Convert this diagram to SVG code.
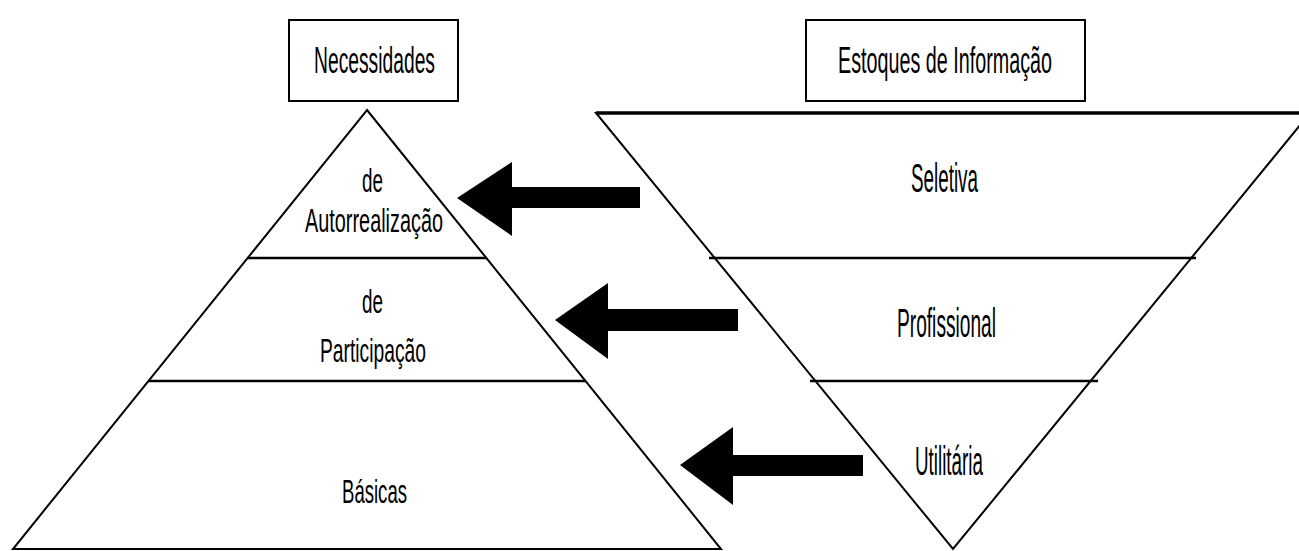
<svg xmlns="http://www.w3.org/2000/svg" width="1299" height="551" viewBox="0 0 1299 551">
<style>
.shape{fill:#ffffff;stroke:#000;stroke-width:2}
.div{stroke:#000;stroke-width:2.5;fill:none}
.box{fill:#fff;stroke:#000;stroke-width:2}
.arrow{fill:#000;stroke:none}
text{font-family:"Liberation Sans",Arial,sans-serif;fill:#000;text-anchor:middle}
.h{font-size:37px}
.l{font-size:34px}
.r{font-size:40px}
</style>
<rect width="1299" height="551" fill="#fff"/>
<g id="box-necessidades">
<rect class="box" x="289" y="20" width="169" height="81"/>
<text class="h" x="374.5" y="73" textLength="121" lengthAdjust="spacingAndGlyphs">Necessidades</text>
</g>
<g id="box-estoques">
<rect class="box" x="806" y="20" width="279" height="81"/>
<text class="h" x="945" y="73" textLength="214" lengthAdjust="spacingAndGlyphs">Estoques de Informação</text>
</g>
<g id="pyramid">
<polygon class="shape" points="367,110 721,549 13,549"/>
<line class="div" x1="248" y1="258" x2="487" y2="258"/>
<line class="div" x1="149" y1="381" x2="585" y2="381"/>
</g>
<g id="level-autorrealizacao">
<text class="l" x="372.5" y="192" textLength="21" lengthAdjust="spacingAndGlyphs">de</text>
<text class="l" x="374" y="232" textLength="138" lengthAdjust="spacingAndGlyphs">Autorrealização</text>
</g>
<g id="level-participacao">
<text class="l" x="372.5" y="313" textLength="21" lengthAdjust="spacingAndGlyphs">de</text>
<text class="l" x="373" y="362" textLength="106" lengthAdjust="spacingAndGlyphs">Participação</text>
</g>
<g id="level-basicas">
<text class="l" x="374.5" y="503" textLength="65" lengthAdjust="spacingAndGlyphs">Básicas</text>
</g>
<g id="inverted-triangle">
<polygon class="shape" points="596,113 1310,113 953,549"/>
<line x1="596" y1="113" x2="1299" y2="113" stroke="#000" stroke-width="3.5"/>
<line class="div" x1="709" y1="258" x2="1196" y2="258"/>
<line class="div" x1="810" y1="381" x2="1098" y2="381"/>
</g>
<g id="stock-seletiva">
<text class="r" x="944.5" y="192" textLength="67" lengthAdjust="spacingAndGlyphs">Seletiva</text>
</g>
<g id="stock-profissional">
<text class="r" x="946.5" y="337" textLength="99" lengthAdjust="spacingAndGlyphs">Profissional</text>
</g>
<g id="stock-utilitaria">
<text class="r" x="949" y="475" textLength="68" lengthAdjust="spacingAndGlyphs">Utilitária</text>
</g>
<g id="connectors">
<polygon class="arrow" points="457,198 512,162 512,187 640,187 640,208 512,208 512,236"/>
<polygon class="arrow" points="555,320 608,283 608,309 738,309 738,331 608,331 608,359"/>
<polygon class="arrow" points="680,465 733,427 733,455 863,455 863,476 733,476 733,505"/>
</g>
</svg>
